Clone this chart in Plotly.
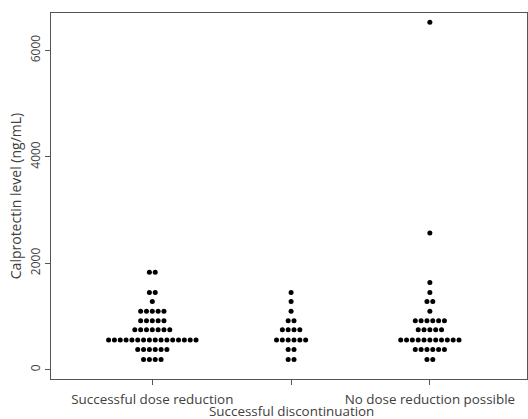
import plotly.graph_objects as go
from collections import Counter

categories = ["Successful dose reduction", "Successful discontinuation", "No dose reduction possible"]
# The middle category label sits on a lower, staggered row (as in the original)
tick_labels = ["Successful dose reduction", "", "No dose reduction possible"]

dose_reduction = [1830, 1830, 1450, 1450, 1280,
                  1100, 1100, 1100, 1100, 1100,
                  920, 920, 920, 920, 920,
                  750, 750, 750, 750, 750, 750, 750,
                  560, 560, 560, 560, 560, 560, 560, 560, 560, 560, 560, 560, 560, 560, 560, 560,
                  380, 380, 380, 380, 380, 380,
                  190, 190, 190, 190]
discontinuation = [1450, 1280, 1100, 920, 920,
                   750, 750, 750, 750,
                   560, 560, 560, 560, 560, 560,
                   380, 380, 190, 190]
no_reduction = [6530, 2570, 1640, 1450, 1280, 1280, 1100,
                920, 920, 920, 920, 920, 920,
                750, 750, 750, 750, 750,
                560, 560, 560, 560, 560, 560, 560, 560, 560, 560, 560,
                380, 380, 380, 380, 380, 380,
                190, 190]

groups = [dose_reduction, discontinuation, no_reduction]
y_ticks = [0, 2000, 4000, 6000]

STEP = 0.042  # horizontal dot spacing in category units

xs, ys = [], []
for gi, vals in enumerate(groups):
    counts = Counter(vals)
    for v, n in counts.items():
        for i in range(n):
            xs.append(gi + 1 + (i - (n - 1) / 2) * STEP)
            ys.append(v)

fig = go.Figure(go.Scatter(
    x=xs, y=ys, mode="markers",
    marker=dict(size=5, color="black"),
    hoverinfo="y", showlegend=False))

axis_color = "#555555"
font_color = "#404040"
fig.update_layout(
    width=528, height=419,
    margin=dict(l=51, r=1, t=13, b=40),
    paper_bgcolor="white", plot_bgcolor="white",
    font=dict(family="Open Sans", size=12, color=font_color),
    xaxis=dict(
        range=[0.27, 3.70], tickmode="array", tickvals=[1, 2, 3], ticktext=tick_labels,
        tickfont=dict(size=13.4),
        showgrid=False, zeroline=False, showline=True, linecolor=axis_color, linewidth=1,
        mirror=True, ticks="outside", ticklen=5, tickcolor=axis_color, tickangle=0,
        automargin=False, ticklabelstandoff=3,
    ),
    yaxis=dict(
        range=[-175, 6702], tickmode="array", tickvals=y_ticks,
        ticktext=[str(t) for t in y_ticks], tickangle=-90,
        showgrid=False, zeroline=False, showline=True, linecolor=axis_color, linewidth=1,
        mirror=True, ticks="outside", ticklen=5, tickcolor=axis_color,
        automargin=False,
        title=dict(text="Calprotectin level (ng/mL)", standoff=2),
    ),
    annotations=[dict(
        x=2, xref="x", y=0, yref="paper", yanchor="middle", yshift=-32,
        text=categories[1], showarrow=False, font=dict(size=13.4, color=font_color),
    )],
)

fig.write_html("out.html", config={"displayModeBar": False},
               post_script="document.body.style.margin='0';")
